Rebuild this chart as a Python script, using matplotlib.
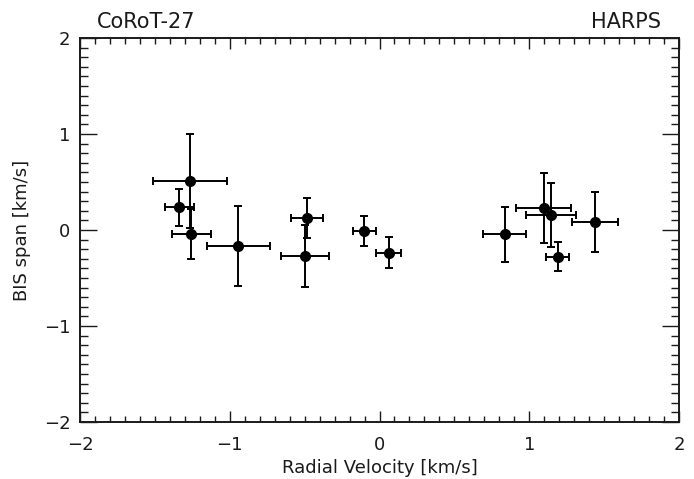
import matplotlib.pyplot as plt
from matplotlib.ticker import MultipleLocator

# CoRoT-27 HARPS bisector span vs radial velocity (km/s)
rv = [-1.267, -1.337, -1.257, -0.943, -0.484, -0.497, -0.101, 0.061,
      0.836, 1.096, 1.145, 1.190, 1.439]
rv_err = [0.247, 0.097, 0.130, 0.209, 0.105, 0.161, 0.079, 0.083,
          0.144, 0.183, 0.168, 0.075, 0.156]
bis = [0.507, 0.236, -0.045, -0.167, 0.125, -0.271, -0.010, -0.236,
       -0.045, 0.226, 0.153, -0.281, 0.080]
bis_err = [0.49, 0.193, 0.26, 0.415, 0.21, 0.32, 0.153, 0.165,
           0.286, 0.363, 0.333, 0.151, 0.312]

ink = "#1a1a1a"
plt.rcParams["font.family"] = ["DejaVu Sans"]

fig = plt.figure(figsize=(6.94, 4.79), dpi=100)
ax = fig.add_axes([80 / 694, 57 / 479, 599 / 694, 384 / 479])

ax.errorbar(rv, bis, xerr=rv_err, yerr=bis_err, fmt="o", color="black",
            ms=7, elinewidth=1.4, capsize=3, capthick=1.4)

ax.set_xlim(-2, 2)
ax.set_ylim(-2, 2)
for a in (ax.xaxis, ax.yaxis):
    a.set_major_locator(MultipleLocator(1))
    a.set_minor_locator(MultipleLocator(0.1))
ax.tick_params(which="both", direction="in", top=True, right=True,
               colors=ink, width=1.0, labelsize=13)
ax.tick_params(axis="x", which="major", length=8, pad=10)
ax.tick_params(axis="x", which="minor", length=4)
ax.tick_params(axis="y", which="major", length=12, pad=7)
ax.tick_params(axis="y", which="minor", length=6)
for s in ax.spines.values():
    s.set_linewidth(1.4)
    s.set_color(ink)

ax.set_xlabel("Radial Velocity [km/s]", fontsize=13, color=ink, labelpad=4)
ax.set_ylabel("BIS span [km/s]", fontsize=13, color=ink, labelpad=9)

fig.text(97 / 694, 1 - 28 / 479, "CoRoT-27", fontsize=15, color=ink,
         ha="left", va="baseline")
fig.text(661 / 694, 1 - 28 / 479, "HARPS", fontsize=15, color=ink,
         ha="right", va="baseline")

fig.savefig("out.png", dpi=100)
